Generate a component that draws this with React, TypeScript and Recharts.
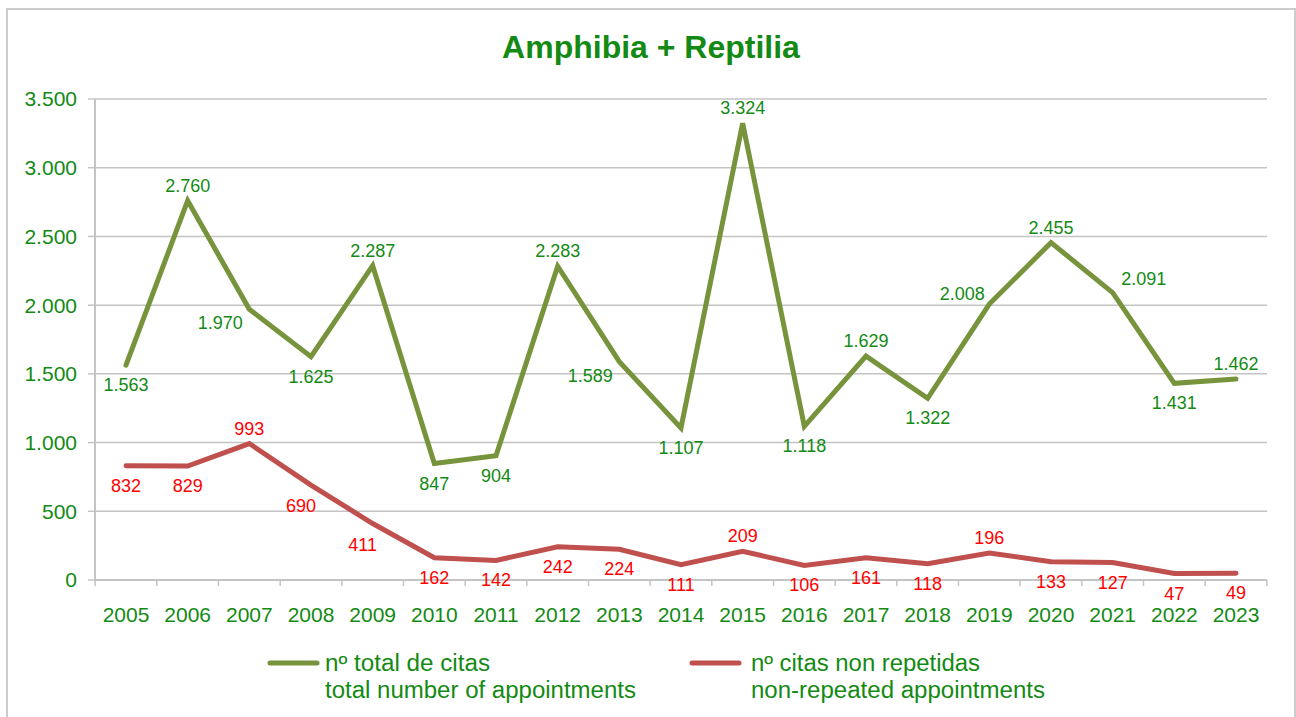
import { LineChart, Line, XAxis, YAxis, CartesianGrid, LabelList } from "recharts";

const years = [
  "2005", "2006", "2007", "2008", "2009", "2010", "2011", "2012", "2013", "2014",
  "2015", "2016", "2017", "2018", "2019", "2020", "2021", "2022", "2023",
];
const totalCitas = [
  1563, 2760, 1970, 1625, 2287, 847, 904, 2283, 1589, 1107,
  3324, 1118, 1629, 1322, 2008, 2455, 2091, 1431, 1462,
];
const citasNonRepetidas = [
  832, 829, 993, 690, 411, 162, 142, 242, 224, 111,
  209, 106, 161, 118, 196, 133, 127, 47, 49,
];
const yTicks = [0, 500, 1000, 1500, 2000, 2500, 3000, 3500];

// where each value label sits relative to its point
const totalLabelPos = ["b", "t", "bl", "b", "t", "b", "b", "t", "bl", "b", "t", "b", "t", "b", "l", "t", "tr", "b", "t"];
const nonRepLabelPos = ["b", "b", "t", "bl", "bl", "b", "b", "b", "b", "b", "t", "b", "b", "b", "t", "b", "b", "b", "b"];

const data = years.map((year, i) => ({
  year,
  total: totalCitas[i],
  nonRep: citasNonRepetidas[i],
}));

const GREEN_TEXT = "#138a13";
const GREEN_LINE = "#77933c";
const RED_LINE = "#c0504d";
const GRID = "#c4c4c4";
const FONT = "'Liberation Sans', Arial, sans-serif";

const W = 1296;
const H = 717;
const MARGIN = { top: 99, right: 29, left: 5, bottom: 97 };
const Y_AXIS_W = 90;
const PAD = 31;
const TICK_MARGIN = 27;
// distance between two categories, used to put the x ticks between them like Excel
const plotW = W - MARGIN.left - MARGIN.right - Y_AXIS_W;
const step = (plotW - 2 * PAD) / (years.length - 1);

const fmt = (v: number) => String(v).replace(/\B(?=(\d{3})+(?!\d))/g, ".");

const offsets: Record<string, [number, number]> = {
  t: [0, -15],
  b: [0, 20],
  bl: [-10, 21],
  l: [-27, -10],
  tr: [31, -14],
};
const totalOffsets: Record<string, [number, number]> = {
  ...offsets,
  bl: [-29, 14],
};

function makeLabel(pos: string[], table: Record<string, [number, number]>, color: string) {
  return (props: any) => {
    const { x, y, value, index } = props;
    const [dx, dy] = table[pos[index]] || [0, -15];
    return (
      <text
        x={x + dx}
        y={y + dy}
        textAnchor="middle"
        dominantBaseline="central"
        fill={color}
        fontSize={18}
        fontFamily={FONT}
      >
        {fmt(value)}
      </text>
    );
  };
}

const YearTick = (props: any) => {
  const { x, y, payload, index } = props;
  const axisY = y - TICK_MARGIN;
  const last = index === years.length - 1;
  return (
    <g>
      <line x1={x - step / 2} x2={x - step / 2} y1={axisY} y2={axisY + 6} stroke={GRID} strokeWidth={1.5} />
      {last && (
        <line x1={x + step / 2} x2={x + step / 2} y1={axisY} y2={axisY + 6} stroke={GRID} strokeWidth={1.5} />
      )}
      <text x={x} y={y + 15} textAnchor="middle" fill={GREEN_TEXT} fontSize={21} fontFamily={FONT}>
        {payload.value}
      </text>
    </g>
  );
};

export default function App() {
  return (
    <div style={{ position: "absolute", left: 0, top: 0, width: W, height: H, background: "#fff", overflow: "hidden" }}>
      <div
        style={{
          position: "absolute",
          left: 6,
          top: 8,
          width: 1290,
          height: 720,
          border: "2px solid #cccccc",
          boxSizing: "border-box",
        }}
      />
      <div style={{ position: "absolute", left: 0, top: 0 }}>
        <LineChart width={W} height={H} data={data} margin={MARGIN}>
          <CartesianGrid horizontal vertical={false} stroke={GRID} strokeWidth={1.5} />
          <XAxis
            dataKey="year"
            height={40}
            padding={{ left: PAD, right: PAD }}
            tickLine={false}
            tickSize={0}
            tickMargin={TICK_MARGIN}
            axisLine={{ stroke: GRID, strokeWidth: 2 }}
            tick={YearTick}
            interval={0}
          />
          <YAxis
            width={Y_AXIS_W}
            domain={[0, 3500]}
            ticks={yTicks}
            tickFormatter={fmt}
            tickSize={7}
            tickMargin={11}
            axisLine={{ stroke: GRID, strokeWidth: 2 }}
            tickLine={{ stroke: GRID, strokeWidth: 1.5 }}
            tick={{ fill: GREEN_TEXT, fontSize: 21, fontFamily: FONT }}
          />
          <YAxis
            yAxisId="r"
            orientation="right"
            width={0}
            domain={[0, 3500]}
            tick={false}
            tickLine={false}
            axisLine={{ stroke: GRID, strokeWidth: 2 }}
          />
          <Line
            type="linear"
            dataKey="total"
            stroke={GREEN_LINE}
            strokeWidth={5}
            strokeLinecap="round"
            dot={false}
            activeDot={false}
            isAnimationActive={false}
          >
            <LabelList dataKey="total" content={makeLabel(totalLabelPos, totalOffsets, GREEN_TEXT)} />
          </Line>
          <Line
            type="linear"
            dataKey="nonRep"
            stroke={RED_LINE}
            strokeWidth={5}
            strokeLinecap="round"
            dot={false}
            activeDot={false}
            isAnimationActive={false}
          >
            <LabelList dataKey="nonRep" content={makeLabel(nonRepLabelPos, offsets, "#ff0000")} />
          </Line>
        </LineChart>
      </div>
      <svg
        width={W}
        height={H}
        style={{ position: "absolute", left: 0, top: 0, pointerEvents: "none" }}
        fontFamily={FONT}
      >
        <text x={651} y={58} textAnchor="middle" fontSize={32} fontWeight="bold" fill={GREEN_TEXT}>
          Amphibia + Reptilia
        </text>
        <line x1={270} y1={663} x2={317} y2={663} stroke={GREEN_LINE} strokeWidth={5} strokeLinecap="round" />
        <text x={325} y={671} fontSize={23} fill={GREEN_TEXT} textLength={165} lengthAdjust="spacingAndGlyphs">
          nº total de citas
        </text>
        <text x={325} y={698} fontSize={23} fill={GREEN_TEXT} textLength={311} lengthAdjust="spacingAndGlyphs">
          total number of appointments
        </text>
        <line x1={692} y1={663} x2={739} y2={663} stroke={RED_LINE} strokeWidth={5} strokeLinecap="round" />
        <text x={751} y={671} fontSize={23} fill={GREEN_TEXT} textLength={229} lengthAdjust="spacingAndGlyphs">
          nº citas non repetidas
        </text>
        <text x={751} y={698} fontSize={23} fill={GREEN_TEXT} textLength={294} lengthAdjust="spacingAndGlyphs">
          non-repeated appointments
        </text>
      </svg>
    </div>
  );
}
